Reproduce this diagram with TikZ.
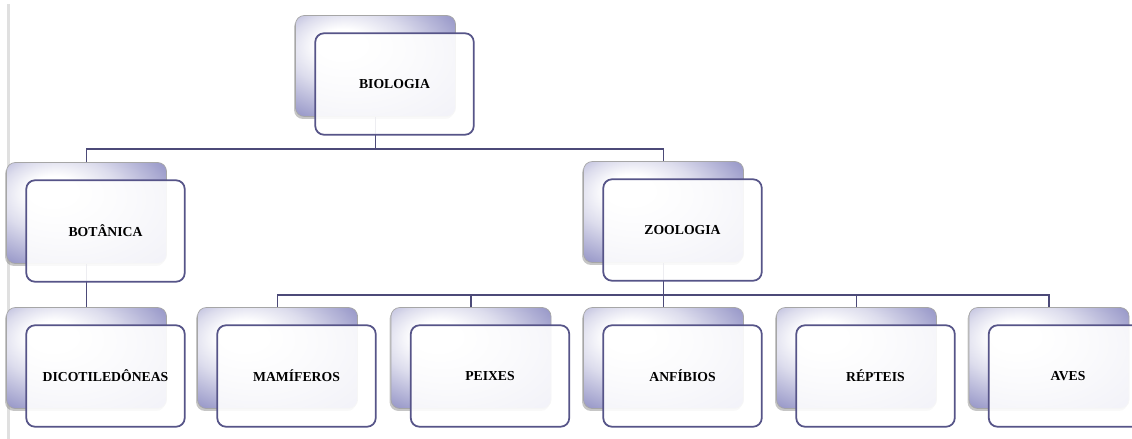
\documentclass[tikz,border=0pt]{standalone}
\usepackage{fontspec}
\setmainfont{Liberation Serif}
\usepackage{tikz}
\usetikzlibrary{calc}
\usetikzlibrary{shadows}

\definecolor{lavenda}{RGB}{140,140,194}
\definecolor{borda}{RGB}{86,84,136}
\definecolor{linha}{RGB}{76,74,120}
\pgfdeclareradialshading{cartao}{\pgfpoint{-12bp}{12bp}}{color(0bp)=(white); color(8bp)=(white); color(19bp)=(lavenda!30); color(38bp)=(lavenda); color(60bp)=(lavenda)}

\tikzset{
  fundo/.style={rounded corners=5pt, minimum width=3.2cm, minimum height=2.02cm, inner sep=0pt,
    draw=black!35, shading=cartao,
    drop shadow={shadow xshift=-0.8pt, shadow yshift=-1.4pt, opacity=0.45}},
  frente/.style={rounded corners=5pt, minimum width=3.17cm, minimum height=2.03cm, inner sep=0pt,
    draw=borda, line width=1pt, fill=white, fill opacity=0.9, text opacity=1,
    font=\bfseries\fontsize{7.8}{9}\selectfont},
  ligacao/.style={linha, line width=1.1pt}
}

\begin{document}
\begin{tikzpicture}
\useasboundingbox (0,0) rectangle (22.64,-8.78);
\draw[black!12, line width=1.2pt] (0.17,-0.08) -- (0.17,-8.78);
% caixas de fundo
\node[fundo] (bioF) at (7.51,-1.32) {};
\node[fundo] (botF) at (1.73,-4.26) {};
\node[fundo] (zooF) at (13.27,-4.24) {};
\node[fundo] (dicF) at (1.73,-7.16) {};
\node[fundo] (mamF) at (5.55,-7.16) {};
\node[fundo] (peiF) at (9.42,-7.16) {};
\node[fundo] (anfF) at (13.27,-7.16) {};
\node[fundo] (repF) at (17.13,-7.16) {};
\node[fundo] (aveF) at (20.98,-7.16) {};
% ligacoes
\coordinate (barraA) at (0,-2.98);
\coordinate (barraB) at (0,-5.90);
\draw[ligacao] (bioF.south) -- (bioF.south |- barraA);
\draw[ligacao] (botF.north) |- (zooF.north |- barraA) -- (zooF.north);
\draw[ligacao] (botF.south) -- (dicF.north);
\draw[ligacao] (zooF.south) -- (anfF.north);
\draw[ligacao] (mamF.north) |- (aveF.north |- barraB) -- (aveF.north);
\draw[ligacao] (peiF.north) -- (peiF.north |- barraB);
\draw[ligacao] (repF.north) -- (repF.north |- barraB);
% caixas da frente
\node[frente] (bio) at ($(bioF)+(0.38,-0.36)$) {BIOLOGIA};
\node[frente] (bot) at ($(botF)+(0.38,-0.36)$) {BOTÂNICA};
\node[frente] (zoo) at ($(zooF)+(0.38,-0.36)$) {ZOOLOGIA};
\node[frente] (dic) at ($(dicF)+(0.38,-0.36)$) {DICOTILEDÔNEAS};
\node[frente] (mam) at ($(mamF)+(0.38,-0.36)$) {MAMÍFEROS};
\node[frente] (pei) at ($(peiF)+(0.38,-0.36)$) {PEIXES};
\node[frente] (anf) at ($(anfF)+(0.38,-0.36)$) {ANFÍBIOS};
\node[frente] (rep) at ($(repF)+(0.38,-0.36)$) {RÉPTEIS};
\node[frente] (ave) at ($(aveF)+(0.38,-0.36)$) {AVES};
\end{tikzpicture}
\end{document}
